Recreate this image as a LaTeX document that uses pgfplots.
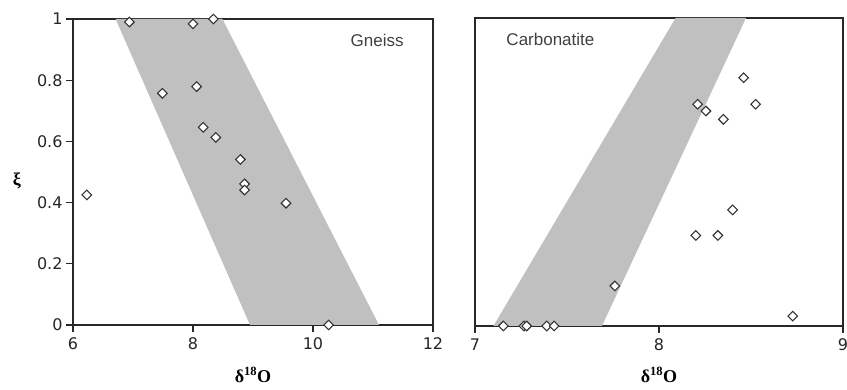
\documentclass[border=0pt]{standalone}
\usepackage{fontspec}
\setmainfont{Liberation Sans}
\newfontfamily\dejavu{DejaVu Sans}
\newfontfamily\serifb{Liberation Serif}
\usepackage{pgfplots}
\pgfplotsset{compat=1.18}
\definecolor{bandgray}{RGB}{192,192,192}
\definecolor{framec}{RGB}{40,40,40}
\definecolor{txtc}{RGB}{64,64,64}
\newcommand{\lblfont}{\serifb\bfseries\fontsize{18}{19}\selectfont}
\pgfplotsset{
  myaxis/.style={
    scale only axis,
    ymin=0, ymax=1,
    clip=false,
    axis line style={framec, line width=1.3pt},
    tick style={framec, line width=1.3pt},
    tick align=outside,
    major tick length=7pt,
    xtick pos=bottom, ytick pos=left,
    /pgf/number format/assume math mode=true,
    ticklabel style={font=\dejavu\fontsize{16}{17}\selectfont, text=black!85},
    xticklabel style={yshift=-2pt},
  },
  mymark/.style={only marks, mark=square*, mark size=3.4pt,
    mark options={rotate=45, fill=white, draw=black!80, line width=1.1pt}},
}
\begin{document}
\begin{tikzpicture}
\useasboundingbox (0,0) rectangle (847pt,390pt);
% Gneiss
\begin{axis}[myaxis,
  at={(73pt,65pt)}, anchor=south west,
  width=360pt, height=306pt,
  xmin=6, xmax=12,
  xtick={6,8,10,12},
  ytick={0,0.2,0.4,0.6,0.8,1},
  yticklabels={0,0.2,0.4,0.6,0.8,1},
  xlabel={δ\textsuperscript{18}O},
  ylabel={ξ},
  every axis x label/.style={at={(axis description cs:0.5,-0.163)}, anchor=center, font=\lblfont},
  every axis y label/.style={at={(axis description cs:-0.156,0.47)}, anchor=center, font=\lblfont},
]
\addplot[fill=bandgray, draw=none] coordinates {(6.71,1) (8.49,1) (11.1,0) (8.95,0)} -- cycle;
\addplot[mymark] coordinates {
(6.23,0.425) (6.94,0.99) (8.00,0.984) (8.34,1.0) (7.49,0.757) (8.06,0.779)
(8.17,0.646) (8.38,0.613) (8.79,0.541) (8.86,0.461) (8.86,0.441) (9.55,0.398)
(10.26,0.0)
};
\node[font=\fontsize{17}{18}\selectfont, text=txtc] at (axis cs:11.07,0.93) {Gneiss};
\end{axis}
% Carbonatite
\begin{axis}[myaxis,
  at={(475pt,64pt)}, anchor=south west,
  width=368pt, height=308pt,
  xmin=7, xmax=9,
  xtick={7,8,9},
  ytick=\empty,
  xlabel={δ\textsuperscript{18}O},
  every axis x label/.style={at={(axis description cs:0.5,-0.159)}, anchor=center, font=\lblfont},
]
\addplot[fill=bandgray, draw=none] coordinates {(7.10,0) (7.69,0) (8.473,1) (8.09,1)} -- cycle;
\addplot[mymark] coordinates {
(7.154,0) (7.266,0) (7.281,0) (7.39,0) (7.43,0) (7.76,0.13)
(8.20,0.294) (8.32,0.294) (8.40,0.377) (8.21,0.72) (8.255,0.698) (8.35,0.671)
(8.46,0.806) (8.525,0.72) (8.727,0.032)
};
\node[font=\fontsize{17}{18}\selectfont, text=txtc] at (axis cs:7.41,0.93) {Carbonatite};
\end{axis}
\end{tikzpicture}
\end{document}
